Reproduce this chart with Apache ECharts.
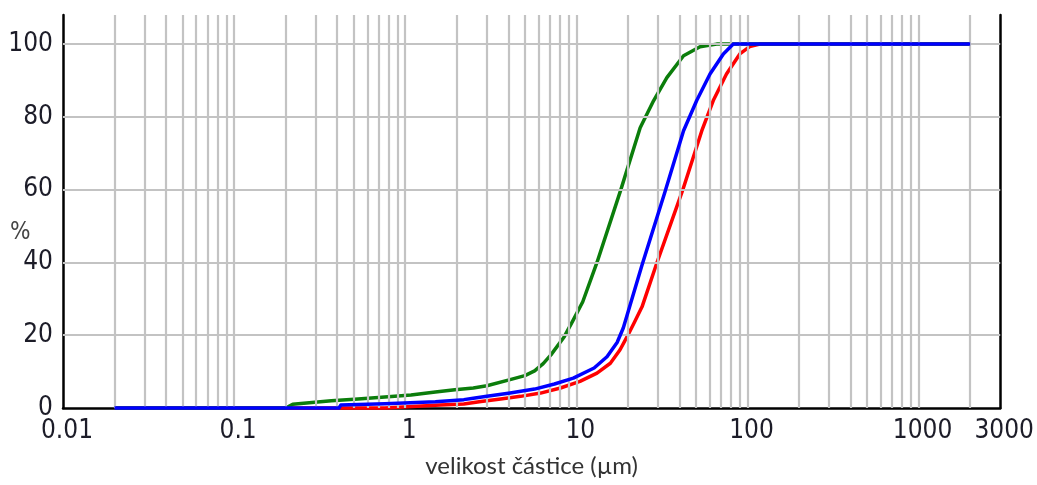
<!DOCTYPE html>
<html>
<head>
<meta charset="utf-8">
<style>
  html, body { margin: 0; padding: 0; background: #fff; }
  #chart { width: 1037px; height: 485px; }
</style>
<script src="https://cdn.jsdelivr.net/npm/echarts@6/dist/echarts.min.js"></script>
</head>
<body>
<div id="chart"></div>
<script>
// particle size (µm) and cumulative % for each sample
const greenSizes = [0.02, 0.2, 0.22, 0.37, 0.53, 0.76, 1.08, 1.5, 1.95, 2.5, 3.0, 4.1, 5.0, 5.7, 6.4, 7.1, 8.5, 9.6, 10.9, 13.2, 18.2, 23.6, 28.3, 33.8, 42.3, 52.8, 66, 2000]
const greenValues = [0, 0, 1.0, 2.0, 2.5, 3.0, 3.6, 4.4, 5.0, 5.5, 6.1, 7.8, 8.9, 10.2, 12.2, 14.6, 19.6, 24.2, 29.2, 40, 60, 77, 84.5, 90.8, 96.8, 99.3, 100, 100]

const blueSizes = [0.02, 0.41, 0.42, 0.76, 1.5, 2.2, 2.5, 3.0, 4.1, 5.7, 7.45, 9.6, 12.7, 15.1, 17.3, 18.8, 24.2, 32.9, 42.3, 50.5, 60.4, 72.3, 82.6, 2000]
const blueValues = [0, 0, 0.8, 1.2, 1.7, 2.3, 2.7, 3.2, 4.1, 5.2, 6.6, 8.2, 11, 14.1, 18, 22, 39.3, 59.3, 76.2, 84.5, 91.8, 97.3, 100, 100]

const redSizes = [0.02, 0.76, 0.78, 1.6, 2.2, 2.77, 3.61, 4.72, 6.18, 8.07, 10.5, 13.2, 15.8, 18, 19.8, 21.7, 24.2, 29.6, 41.9, 54.1, 63.1, 75.4, 90.2, 103, 118, 2000]
const redValues = [0, 0, 0.3, 0.8, 1.1, 1.8, 2.5, 3.2, 4.1, 5.5, 7.3, 9.6, 12.3, 16, 19.6, 23.3, 27.8, 40, 60, 76.2, 84.5, 91.8, 97.3, 99.3, 100, 100]

// axis ticks / grid
const xTickLabels = [0.01, 0.1, 1, 10, 100, 1000, 3000]
const gridDecades = [0.01, 0.1, 1, 10, 100]
const gridMultipliers = [2, 3, 4, 5, 6, 7, 8, 9, 10]
const extraGridX = [2000]
const yGridValues = [20, 40, 60, 80, 100]

const vLines = []
gridDecades.forEach(d => gridMultipliers.forEach(m => vLines.push(+(m * d).toPrecision(6))))
extraGridX.forEach(v => vLines.push(v))

const toPairs = (xs, ys) => xs.map((x, i) => [x, ys[i]])

const numFont = '"Liberation Sans Narrow", "DejaVu Sans Condensed", sans-serif'
const gridLineStyle = { color: '#c3c3c3', width: 2.2, type: 'solid' }

const chart = echarts.init(document.getElementById('chart'))

const curve = (name, color, xs, ys, z) => ({
  name,
  type: 'line',
  data: toPairs(xs, ys),
  showSymbol: false,
  symbol: 'none',
  clip: false,
  z,
  lineStyle: { color, width: 3.5, join: 'round' },
  itemStyle: { color }
})

chart.setOption({
  animation: false,
  backgroundColor: '#fff',
  grid: { left: 63, right: 33, top: 15, bottom: 77 },
  xAxis: {
    type: 'log',
    logBase: 10,
    min: 0.01,
    max: 3000,
    name: 'velikost částice (µm)',
    nameLocation: 'middle',
    nameGap: 46,
    nameTextStyle: { fontFamily: 'Lato, "Open Sans", sans-serif', fontSize: 24, color: '#333' },
    axisLine: { show: true, lineStyle: { color: '#000', width: 2.5 } },
    axisTick: { show: false },
    splitLine: { show: false },
    axisLabel: {
      margin: 10,
      fontFamily: numFont,
      fontSize: 26,
      color: '#1c1c28',
      padding: [0, 0, 0, 8],
      showMinLabel: true,
      showMaxLabel: true,
      formatter: v => {
        const r = +Number(v).toPrecision(6)
        return xTickLabels.includes(r) ? String(r) : ''
      }
    }
  },
  yAxis: [{
    type: 'value',
    min: 0,
    max: 108,
    interval: 20,
    axisLine: { show: true, lineStyle: { color: '#000', width: 2.5 } },
    axisTick: { show: false },
    splitLine: { show: false },
    axisLabel: {
      margin: 10,
      fontFamily: numFont,
      fontSize: 26,
      color: '#1c1c28',
      showMaxLabel: false
    }
  }, {
    type: 'value',
    position: 'right',
    min: 0,
    max: 108,
    axisLine: { show: true, lineStyle: { color: '#000', width: 2.5 } },
    axisTick: { show: false },
    axisLabel: { show: false },
    splitLine: { show: false }
  }],
  graphic: [{
    type: 'text',
    left: 10,
    top: 221,
    style: { text: '%', fontFamily: numFont, fontSize: 24, fill: '#444' }
  }],
  series: [
    {
      name: 'grid',
      type: 'line',
      data: [],
      silent: true,
      z: 1,
      markLine: {
        silent: true,
        symbol: ['none', 'none'],
        label: { show: false },
        lineStyle: gridLineStyle,
        data: vLines.map(v => ({ xAxis: v })).concat(yGridValues.map(v => ({ yAxis: v })))
      }
    },
    curve('red', '#ff0000', redSizes, redValues, 3),
    curve('green', '#0b7d0b', greenSizes, greenValues, 4),
    curve('blue', '#0000ff', blueSizes, blueValues, 5)
  ]
})
</script>
</body>
</html>
